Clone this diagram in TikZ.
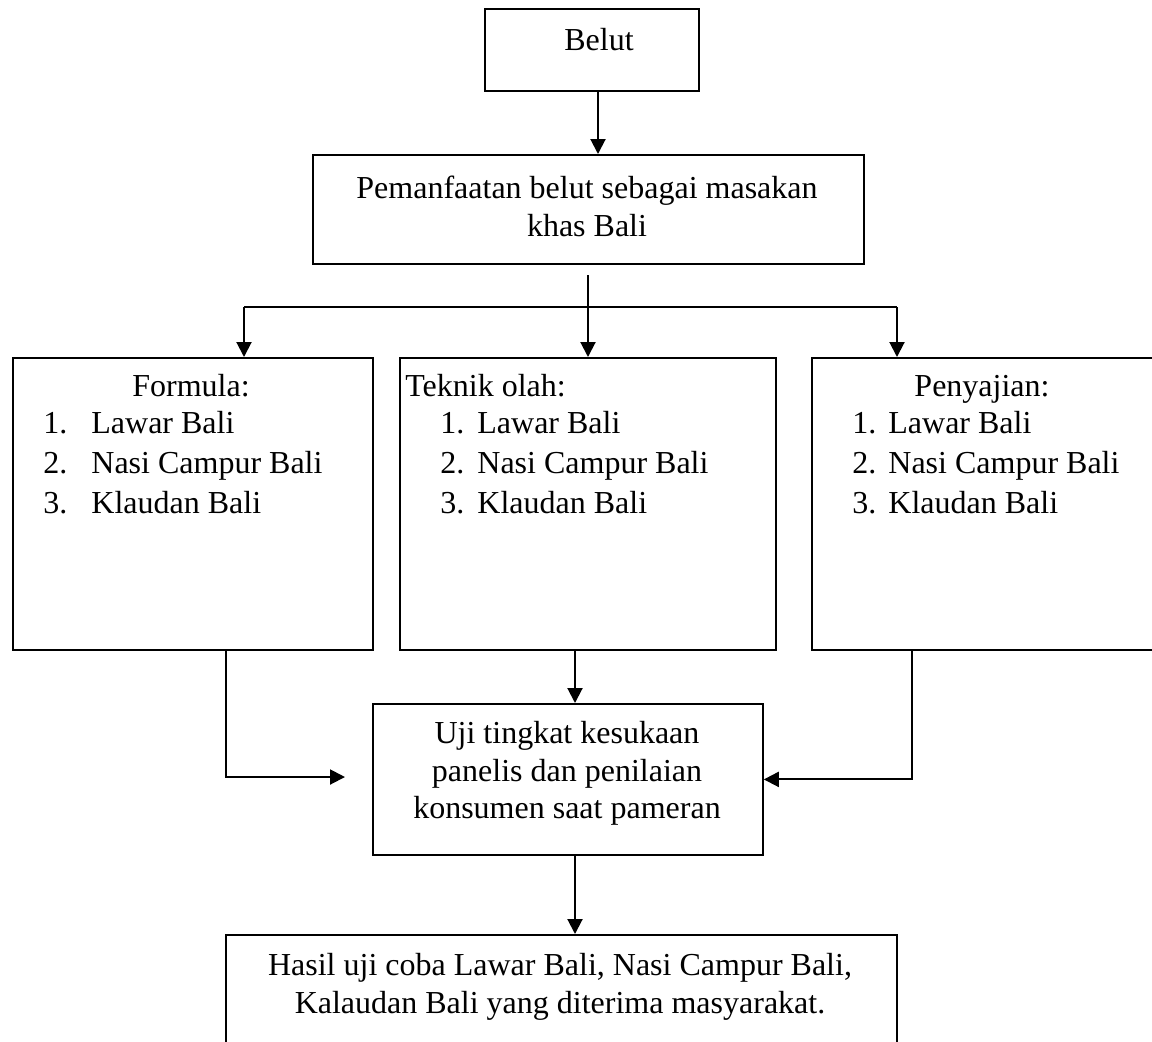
\documentclass[tikz,border=0pt]{standalone}
\usepackage{fontspec}
\setmainfont{Liberation Serif}
\usetikzlibrary{arrows.meta}
\begin{document}
\begin{tikzpicture}[x=0.5pt,y=-0.5pt,
  box/.style={draw, line width=0.9pt, inner sep=0pt, anchor=north west},
  txt/.style={inner sep=0pt, font=\fontsize{16pt}{19.5pt}\selectfont},
  conn/.style={line width=1pt},
  arr/.style={conn, -{Triangle[length=7.5pt,width=7.5pt]}}]
\clip (0,0) rectangle (1152,1041);
\fill[white] (0,0) rectangle (1152,1041);

% boxes
\node[box, minimum width=107pt, minimum height=41pt] (belut) at (484,8) {};
\node[box, minimum width=275.5pt, minimum height=54.5pt] (pem) at (312,154) {};
\node[box, minimum width=180pt, minimum height=146pt] (formula) at (12,357) {};
\node[box, minimum width=188pt, minimum height=146pt] (teknik) at (399,357) {};
\node[box, minimum width=179.5pt, minimum height=146pt] (penyajian) at (811,357) {};
\node[box, minimum width=195pt, minimum height=75.5pt] (uji) at (372,703) {};
\node[box, minimum width=335.5pt, minimum height=63pt] (hasil) at (225,934) {};

% box texts
\node[txt, anchor=base] (tBelut) at (599,50) {Belut};
\node[txt, anchor=base] (tPem1) at (587,198) {Pemanfaatan belut sebagai masakan};
\node[txt, anchor=base] (tPem2) at (587,236) {khas Bali};

\node[txt, anchor=base] (tFormula) at (191,396) {Formula:};
\node[txt, anchor=base west] (tTeknik) at (405,396) {Teknik olah:};
\node[txt, anchor=base] (tPenyajian) at (982,396) {Penyajian:};

\foreach \t [count=\k] in {Lawar Bali, Nasi Campur Bali, Klaudan Bali} {
  \node[txt, anchor=base west] (fn\k) at (43,393+40*\k) {\k.};
  \node[txt, anchor=base west] (ft\k) at (91,393+40*\k) {\t};
  \node[txt, anchor=base west] (tn\k) at (440,393+40*\k) {\k.};
  \node[txt, anchor=base west] (tt\k) at (477,393+40*\k) {\t};
  \node[txt, anchor=base west] (pn\k) at (852,393+40*\k) {\k.};
  \node[txt, anchor=base west] (pt\k) at (888,393+40*\k) {\t};
}

\node[txt, anchor=base] (tUji1) at (567,743) {Uji tingkat kesukaan};
\node[txt, anchor=base] (tUji2) at (567,781) {panelis dan penilaian};
\node[txt, anchor=base] (tUji3) at (567,818) {konsumen saat pameran};

\node[txt, anchor=base] (tHasil1) at (560,975) {Hasil uji coba Lawar Bali, Nasi Campur Bali,};
\node[txt, anchor=base] (tHasil2) at (560,1013) {Kalaudan Bali yang diterima masyarakat.};

% connector guides
\coordinate (c1) at (598,0);
\coordinate (split) at (588,275);
\coordinate (hl) at (244,307);
\coordinate (hm) at (588,307);
\coordinate (hr) at (897,307);
\coordinate (fx) at (226,0);
\coordinate (ltip) at (345,777);
\coordinate (px) at (912,0);
\coordinate (tx) at (575,0);

% connectors
\draw[arr] (belut.south -| c1) -- (pem.north -| c1);
\draw[conn] (split) -- (hm);
\draw[conn] (hl) -- (hr);
\draw[arr] (hl) -- (hl |- formula.north);
\draw[arr] (hm) -- (hm |- teknik.north);
\draw[arr] (hr) -- (hr |- penyajian.north);
\draw[arr] (formula.south -| fx) |- (ltip);
\draw[arr] (penyajian.south -| px) |- (uji.east);
\draw[arr] (teknik.south -| tx) -- (uji.north -| tx);
\draw[arr] (uji.south -| tx) -- (hasil.north -| tx);
\end{tikzpicture}
\end{document}
